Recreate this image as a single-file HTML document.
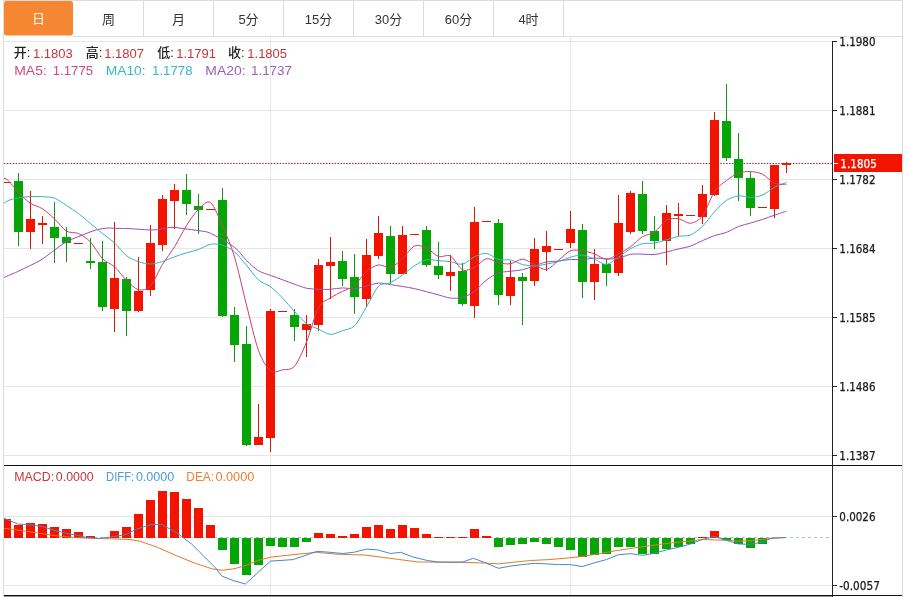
<!DOCTYPE html>
<html><head><meta charset="utf-8"><title>EURUSD K线</title>
<style>
html,body{margin:0;padding:0;background:#fff;}
body{width:907px;height:597px;overflow:hidden;position:relative;}
svg{position:absolute;left:0;top:0;display:block;will-change:transform;}
.t{font-family:"Liberation Sans","Noto Sans CJK SC",sans-serif;}
.ax{font-family:"DejaVu Sans Condensed","DejaVu Sans",sans-serif;font-stretch:condensed;font-size:12px;fill:#1a1a1a;stroke:#1a1a1a;stroke-width:0.25px;}
</style></head><body>
<svg width="907" height="597" viewBox="0 0 907 597" shape-rendering="crispEdges">

<rect x="0" y="0" width="907" height="597" fill="#fff"/>
<rect x="3" y="0" width="900" height="1" fill="#dcdcdc"/>
<rect x="73" y="36" width="830" height="1" fill="#dcdcdc"/>
<rect x="3" y="0" width="1" height="597" fill="#dcdcdc"/>
<rect x="902" y="0" width="1" height="597" fill="#dcdcdc"/>
<rect x="143" y="0" width="1" height="36" fill="#dcdcdc"/>
<rect x="213" y="0" width="1" height="36" fill="#dcdcdc"/>
<rect x="283" y="0" width="1" height="36" fill="#dcdcdc"/>
<rect x="353" y="0" width="1" height="36" fill="#dcdcdc"/>
<rect x="423" y="0" width="1" height="36" fill="#dcdcdc"/>
<rect x="493" y="0" width="1" height="36" fill="#dcdcdc"/>
<rect x="563" y="0" width="1" height="36" fill="#dcdcdc"/>
<rect x="4" y="1" width="69" height="34.5" rx="2.5" fill="#f58733" shape-rendering="geometricPrecision"/>
<text class="t" x="38.5" y="23.3" font-size="13" fill="#fff8e6" text-anchor="middle">日</text>
<text class="t" x="108.5" y="24" font-size="13" fill="#333" text-anchor="middle">周</text>
<text class="t" x="178.5" y="24" font-size="13" fill="#333" text-anchor="middle">月</text>
<text class="t" x="248.5" y="24" font-size="13" fill="#333" text-anchor="middle">5分</text>
<text class="t" x="318.5" y="24" font-size="13" fill="#333" text-anchor="middle">15分</text>
<text class="t" x="388.5" y="24" font-size="13" fill="#333" text-anchor="middle">30分</text>
<text class="t" x="458.5" y="24" font-size="13" fill="#333" text-anchor="middle">60分</text>
<text class="t" x="528.5" y="24" font-size="13" fill="#333" text-anchor="middle">4时</text>
<rect x="4" y="41" width="828" height="1" fill="#e6e6e6"/>
<rect x="4" y="110" width="828" height="1" fill="#e6e6e6"/>
<rect x="4" y="179" width="828" height="1" fill="#e6e6e6"/>
<rect x="4" y="248" width="828" height="1" fill="#e6e6e6"/>
<rect x="4" y="317" width="828" height="1" fill="#e6e6e6"/>
<rect x="4" y="386" width="828" height="1" fill="#e6e6e6"/>
<rect x="4" y="455" width="828" height="1" fill="#e6e6e6"/>
<rect x="270" y="37" width="1" height="558" fill="#e6e6e6"/>
<rect x="570" y="37" width="1" height="558" fill="#e6e6e6"/>
<rect x="4" y="516" width="828" height="1" fill="#e6e6e6"/>
<rect x="4" y="585" width="828" height="1" fill="#e6e6e6"/>
<rect x="4" y="465" width="898" height="1" fill="#111"/>
<rect x="4" y="595" width="898" height="1" fill="#111"/>
<rect x="4" y="596" width="828" height="1" fill="#111" fill-opacity="0.45"/>
<rect x="832" y="41" width="1" height="556" fill="#222"/>
<rect x="833" y="41" width="4" height="1" fill="#222"/>
<text class="ax" x="839.3" y="45.9" textLength="36.2" lengthAdjust="spacingAndGlyphs">1.1980</text>
<rect x="833" y="110" width="4" height="1" fill="#222"/>
<text class="ax" x="839.3" y="114.9" textLength="36.2" lengthAdjust="spacingAndGlyphs">1.1881</text>
<rect x="833" y="179" width="4" height="1" fill="#222"/>
<text class="ax" x="839.3" y="183.9" textLength="36.2" lengthAdjust="spacingAndGlyphs">1.1782</text>
<rect x="833" y="248" width="4" height="1" fill="#222"/>
<text class="ax" x="839.3" y="252.9" textLength="36.2" lengthAdjust="spacingAndGlyphs">1.1684</text>
<rect x="833" y="317" width="4" height="1" fill="#222"/>
<text class="ax" x="839.3" y="321.9" textLength="36.2" lengthAdjust="spacingAndGlyphs">1.1585</text>
<rect x="833" y="386" width="4" height="1" fill="#222"/>
<text class="ax" x="839.3" y="390.9" textLength="36.2" lengthAdjust="spacingAndGlyphs">1.1486</text>
<rect x="833" y="455" width="4" height="1" fill="#222"/>
<text class="ax" x="839.3" y="459.9" textLength="36.2" lengthAdjust="spacingAndGlyphs">1.1387</text>
<rect x="833" y="516" width="4" height="1" fill="#222"/>
<text class="ax" x="839.3" y="520.9" textLength="36.2" lengthAdjust="spacingAndGlyphs">0.0026</text>
<rect x="833" y="585" width="4" height="1" fill="#222"/>
<text class="ax" x="839.3" y="589.9" textLength="40.6" lengthAdjust="spacingAndGlyphs">-0.0057</text>
<line x1="4" y1="163.5" x2="832" y2="163.5" stroke="#b41c24" stroke-width="1" stroke-dasharray="1.5 1.4" shape-rendering="geometricPrecision"/>
<rect x="834" y="154" width="68" height="18" fill="#f31400"/>
<rect x="834" y="163" width="4" height="1" fill="#fff"/>
<text class="ax" x="840.3" y="168" textLength="36.5" lengthAdjust="spacingAndGlyphs" style="fill:#fff;stroke:#fff">1.1805</text>
<defs><clipPath id="cp"><rect x="4" y="37" width="828" height="428"/></clipPath><clipPath id="cm"><rect x="4" y="466" width="828" height="129"/></clipPath></defs>
<g clip-path="url(#cp)">
<rect x="2.0" y="182" width="9" height="1" fill="#d81808"/>
<rect x="18.0" y="173.2" width="1" height="72.80000000000001" fill="#15901a"/>
<rect x="14.0" y="181" width="9" height="50.69999999999999" fill="#05a505"/>
<rect x="30.0" y="191" width="1" height="57.599999999999994" fill="#d81808"/>
<rect x="26.0" y="219.3" width="9" height="12.399999999999977" fill="#f31400"/>
<rect x="42.0" y="216.3" width="1" height="27.5" fill="#d81808"/>
<rect x="38.0" y="222.7" width="9" height="2" fill="#f31400"/>
<rect x="54.0" y="202.1" width="1" height="60.400000000000006" fill="#15901a"/>
<rect x="50.0" y="226.6" width="9" height="11.0" fill="#05a505"/>
<rect x="66.0" y="227.3" width="1" height="34.19999999999999" fill="#15901a"/>
<rect x="62.0" y="237.3" width="9" height="6.099999999999994" fill="#05a505"/>
<rect x="74.0" y="243" width="9" height="1" fill="#d81808"/>
<rect x="90.0" y="238.3" width="1" height="30.19999999999999" fill="#15901a"/>
<rect x="86.0" y="260.9" width="9" height="2" fill="#05a505"/>
<rect x="102.0" y="241.4" width="1" height="69.9" fill="#15901a"/>
<rect x="98.0" y="262" width="9" height="44.69999999999999" fill="#05a505"/>
<rect x="114.0" y="222.3" width="1" height="110.09999999999997" fill="#d81808"/>
<rect x="110.0" y="278.1" width="9" height="30.599999999999966" fill="#f31400"/>
<rect x="126.0" y="277.3" width="1" height="59.099999999999966" fill="#15901a"/>
<rect x="122.0" y="278.7" width="9" height="32.0" fill="#05a505"/>
<rect x="138.0" y="256.7" width="1" height="55.60000000000002" fill="#d81808"/>
<rect x="134.0" y="291.2" width="9" height="19.69999999999999" fill="#f31400"/>
<rect x="150.0" y="224.9" width="1" height="70.9" fill="#d81808"/>
<rect x="146.0" y="243" width="9" height="47.19999999999999" fill="#f31400"/>
<rect x="162.0" y="194.7" width="1" height="56.70000000000002" fill="#d81808"/>
<rect x="158.0" y="199.1" width="9" height="45.900000000000006" fill="#f31400"/>
<rect x="174.0" y="184" width="1" height="44.69999999999999" fill="#d81808"/>
<rect x="170.0" y="190.1" width="9" height="10.5" fill="#f31400"/>
<rect x="186.0" y="174.4" width="1" height="40.79999999999998" fill="#15901a"/>
<rect x="182.0" y="190.1" width="9" height="14.099999999999994" fill="#05a505"/>
<rect x="198.0" y="194.1" width="1" height="40.20000000000002" fill="#15901a"/>
<rect x="194.0" y="205.6" width="9" height="4.599999999999994" fill="#05a505"/>
<rect x="206.0" y="209" width="9" height="1" fill="#d81808"/>
<rect x="222.0" y="187.7" width="1" height="128.8" fill="#15901a"/>
<rect x="218.0" y="200.2" width="9" height="116.0" fill="#05a505"/>
<rect x="234.0" y="307.1" width="1" height="55.299999999999955" fill="#15901a"/>
<rect x="230.0" y="315.2" width="9" height="29.5" fill="#05a505"/>
<rect x="246.0" y="325.8" width="1" height="119.69999999999999" fill="#15901a"/>
<rect x="242.0" y="344.3" width="9" height="100.69999999999999" fill="#05a505"/>
<rect x="258.0" y="403.8" width="1" height="41.19999999999999" fill="#d81808"/>
<rect x="254.0" y="437.3" width="9" height="7.699999999999989" fill="#f31400"/>
<rect x="270.0" y="309.1" width="1" height="143.2" fill="#d81808"/>
<rect x="266.0" y="311.2" width="9" height="126.60000000000002" fill="#f31400"/>
<rect x="278.0" y="311" width="9" height="1" fill="#d81808"/>
<rect x="294.0" y="309.1" width="1" height="32.19999999999999" fill="#15901a"/>
<rect x="290.0" y="315.2" width="9" height="11.400000000000034" fill="#05a505"/>
<rect x="306.0" y="315.3" width="1" height="41.19999999999999" fill="#d81808"/>
<rect x="302.0" y="324.3" width="9" height="5.399999999999977" fill="#f31400"/>
<rect x="318.0" y="258.6" width="1" height="72.79999999999995" fill="#d81808"/>
<rect x="314.0" y="265.4" width="9" height="59.30000000000001" fill="#f31400"/>
<rect x="330.0" y="237.2" width="1" height="61.30000000000001" fill="#d81808"/>
<rect x="326.0" y="261.7" width="9" height="4.199999999999989" fill="#f31400"/>
<rect x="342.0" y="250.9" width="1" height="35.099999999999994" fill="#15901a"/>
<rect x="338.0" y="261.3" width="9" height="17.5" fill="#05a505"/>
<rect x="354.0" y="253.9" width="1" height="59.599999999999994" fill="#15901a"/>
<rect x="350.0" y="276.8" width="9" height="19.899999999999977" fill="#05a505"/>
<rect x="366.0" y="238.6" width="1" height="68.20000000000002" fill="#d81808"/>
<rect x="362.0" y="254.7" width="9" height="44.10000000000002" fill="#f31400"/>
<rect x="378.0" y="215.7" width="1" height="43.0" fill="#d81808"/>
<rect x="374.0" y="232.8" width="9" height="23.099999999999994" fill="#f31400"/>
<rect x="390.0" y="225.7" width="1" height="58.400000000000034" fill="#15901a"/>
<rect x="386.0" y="235.8" width="9" height="38.0" fill="#05a505"/>
<rect x="402.0" y="225.8" width="1" height="48.39999999999998" fill="#d81808"/>
<rect x="398.0" y="234.7" width="9" height="39.5" fill="#f31400"/>
<rect x="410.0" y="234" width="9" height="1" fill="#d81808"/>
<rect x="426.0" y="226.2" width="1" height="41.19999999999999" fill="#15901a"/>
<rect x="422.0" y="230.2" width="9" height="34.60000000000002" fill="#05a505"/>
<rect x="438.0" y="241.9" width="1" height="36.900000000000006" fill="#15901a"/>
<rect x="434.0" y="265.8" width="9" height="9.0" fill="#05a505"/>
<rect x="450.0" y="255.3" width="1" height="35.19999999999999" fill="#d81808"/>
<rect x="446.0" y="271.9" width="9" height="3.7000000000000455" fill="#f31400"/>
<rect x="462.0" y="263.4" width="1" height="42.200000000000045" fill="#15901a"/>
<rect x="458.0" y="271" width="9" height="32.5" fill="#05a505"/>
<rect x="474.0" y="207.1" width="1" height="111.20000000000002" fill="#d81808"/>
<rect x="470.0" y="221.8" width="9" height="83.69999999999999" fill="#f31400"/>
<rect x="482.0" y="221" width="9" height="1" fill="#d81808"/>
<rect x="498.0" y="219.1" width="1" height="85.6" fill="#15901a"/>
<rect x="494.0" y="223.2" width="9" height="71.40000000000003" fill="#05a505"/>
<rect x="510.0" y="260.8" width="1" height="43.89999999999998" fill="#d81808"/>
<rect x="506.0" y="277.2" width="9" height="18.5" fill="#f31400"/>
<rect x="522.0" y="273.4" width="1" height="51.10000000000002" fill="#15901a"/>
<rect x="518.0" y="277.4" width="9" height="3.2000000000000455" fill="#05a505"/>
<rect x="534.0" y="238.3" width="1" height="47.80000000000001" fill="#d81808"/>
<rect x="530.0" y="249" width="9" height="32" fill="#f31400"/>
<rect x="546.0" y="230.7" width="1" height="40.19999999999999" fill="#d81808"/>
<rect x="542.0" y="245.9" width="9" height="5.900000000000006" fill="#f31400"/>
<rect x="554.0" y="249" width="9" height="1" fill="#d81808"/>
<rect x="570.0" y="211.2" width="1" height="36.70000000000002" fill="#d81808"/>
<rect x="566.0" y="228.8" width="9" height="14.099999999999994" fill="#f31400"/>
<rect x="582.0" y="224.2" width="1" height="73.40000000000003" fill="#15901a"/>
<rect x="578.0" y="230.3" width="9" height="51.19999999999999" fill="#05a505"/>
<rect x="594.0" y="249.3" width="1" height="50.69999999999999" fill="#d81808"/>
<rect x="590.0" y="264" width="9" height="17.5" fill="#f31400"/>
<rect x="606.0" y="259.4" width="1" height="26.100000000000023" fill="#15901a"/>
<rect x="602.0" y="264" width="9" height="8.699999999999989" fill="#05a505"/>
<rect x="618.0" y="195.1" width="1" height="80.70000000000002" fill="#d81808"/>
<rect x="614.0" y="222.8" width="9" height="50.30000000000001" fill="#f31400"/>
<rect x="630.0" y="190.7" width="1" height="43.20000000000002" fill="#d81808"/>
<rect x="626.0" y="192.5" width="9" height="39.599999999999994" fill="#f31400"/>
<rect x="642.0" y="181.1" width="1" height="52.80000000000001" fill="#15901a"/>
<rect x="638.0" y="193.7" width="9" height="37.60000000000002" fill="#05a505"/>
<rect x="654.0" y="216.2" width="1" height="32.60000000000002" fill="#15901a"/>
<rect x="650.0" y="231.3" width="9" height="10.099999999999994" fill="#05a505"/>
<rect x="666.0" y="204.6" width="1" height="59.900000000000006" fill="#d81808"/>
<rect x="662.0" y="213.2" width="9" height="27.600000000000023" fill="#f31400"/>
<rect x="678.0" y="203.2" width="1" height="32.70000000000002" fill="#d81808"/>
<rect x="674.0" y="214.2" width="9" height="2" fill="#f31400"/>
<rect x="686.0" y="215" width="9" height="1" fill="#d81808"/>
<rect x="702.0" y="184.8" width="1" height="39.599999999999994" fill="#d81808"/>
<rect x="698.0" y="194.3" width="9" height="22.19999999999999" fill="#f31400"/>
<rect x="714.0" y="112.2" width="1" height="83.99999999999999" fill="#d81808"/>
<rect x="710.0" y="119.8" width="9" height="74.8" fill="#f31400"/>
<rect x="726.0" y="84.1" width="1" height="77.20000000000002" fill="#15901a"/>
<rect x="722.0" y="121.3" width="9" height="36.89999999999999" fill="#05a505"/>
<rect x="738.0" y="133.3" width="1" height="68.0" fill="#15901a"/>
<rect x="734.0" y="158.9" width="9" height="18.900000000000006" fill="#05a505"/>
<rect x="750.0" y="171.8" width="1" height="44.5" fill="#15901a"/>
<rect x="746.0" y="178.1" width="9" height="29.599999999999994" fill="#05a505"/>
<rect x="758.0" y="207" width="9" height="1" fill="#d81808"/>
<rect x="774.0" y="164.5" width="1" height="53.80000000000001" fill="#d81808"/>
<rect x="770.0" y="164.5" width="9" height="44.400000000000006" fill="#f31400"/>
<rect x="786.0" y="161.6" width="1" height="10.900000000000006" fill="#d81808"/>
<rect x="782.0" y="163" width="9" height="2" fill="#f31400"/>
<g fill="none" stroke-width="1" shape-rendering="geometricPrecision">
<path d="M4.00,277.50 C6.40,276.45 14.60,273.05 20.00,270.50 C25.40,267.95 35.20,263.27 40.00,260.50 C44.80,257.73 48.10,254.78 52.00,252.00 C55.90,249.22 61.80,244.40 66.00,242.00 C70.20,239.60 75.50,237.80 80.00,236.00 C84.50,234.20 91.80,231.20 96.00,230.00 C100.20,228.80 105.30,228.25 108.00,228.00 C110.70,227.75 110.70,228.20 114.00,228.30 C117.30,228.41 124.60,228.46 130.00,228.70 C135.40,228.94 145.50,229.81 150.00,229.90 C154.50,229.99 156.70,229.69 160.00,229.30 C163.30,228.91 168.40,227.39 172.00,227.30 C175.60,227.21 180.03,228.19 184.00,228.70 C187.97,229.21 194.53,230.01 198.50,230.70 C202.47,231.39 205.10,230.80 210.50,233.30 C215.90,235.80 229.10,243.28 234.50,247.36 C239.90,251.43 242.90,256.98 246.50,260.49 C250.10,264.00 254.90,268.54 258.50,270.77 C262.10,273.00 266.90,274.02 270.50,275.37 C274.10,276.71 278.90,278.42 282.50,279.74 C286.10,281.06 290.90,282.92 294.50,284.19 C298.10,285.46 302.90,287.47 306.50,288.24 C310.10,289.00 314.90,289.15 318.50,289.31 C322.10,289.48 326.90,289.52 330.50,289.31 C334.10,289.09 338.90,287.98 342.50,287.91 C346.10,287.84 350.90,289.12 354.50,288.84 C358.10,288.56 362.90,286.90 366.50,286.04 C370.10,285.18 374.90,283.33 378.50,283.12 C382.10,282.91 386.90,284.16 390.50,284.66 C394.10,285.16 398.90,285.84 402.50,286.44 C406.10,287.04 410.90,287.86 414.50,288.64 C418.10,289.43 422.90,290.74 426.50,291.68 C430.10,292.61 434.90,293.95 438.50,294.91 C442.10,295.86 446.90,297.67 450.50,298.04 C454.10,298.42 458.90,298.42 462.50,297.41 C466.10,296.39 470.90,293.86 474.50,291.26 C478.10,288.66 482.90,282.84 486.50,280.09 C490.10,277.34 494.90,274.28 498.50,272.96 C502.10,271.63 506.90,271.74 510.50,271.25 C514.10,270.77 518.90,270.54 522.50,269.73 C526.10,268.91 530.90,267.01 534.50,265.84 C538.10,264.67 542.90,262.63 546.50,261.93 C550.10,261.22 554.90,261.49 558.50,261.12 C562.10,260.75 566.90,259.70 570.50,259.48 C574.10,259.25 578.90,259.84 582.50,259.61 C586.10,259.38 590.90,258.09 594.50,257.98 C598.10,257.86 602.90,258.81 606.50,258.88 C610.10,258.94 614.90,259.06 618.50,258.38 C622.10,257.69 626.90,254.95 630.50,254.31 C634.10,253.67 638.90,254.11 642.50,254.14 C646.10,254.17 650.90,254.83 654.50,254.50 C658.10,254.17 662.90,252.75 666.50,251.92 C670.10,251.09 674.90,249.81 678.50,248.94 C682.10,248.07 686.90,247.35 690.50,246.11 C694.10,244.86 698.90,242.23 702.50,240.65 C706.10,239.06 710.90,236.79 714.50,235.54 C718.10,234.30 722.90,233.73 726.50,232.38 C730.10,231.02 734.90,227.93 738.50,226.53 C742.10,225.14 746.90,224.13 750.50,223.06 C754.10,221.99 758.90,220.60 762.50,219.42 C766.10,218.23 770.90,216.44 774.50,215.19 C778.10,213.94 784.70,211.71 786.50,211.09" stroke="#9a4cb4"/>
<path d="M-5.50,212.00 C-3.70,210.43 2.90,203.63 6.50,201.50 C10.10,199.37 14.90,198.54 18.50,197.80 C22.10,197.06 26.90,196.76 30.50,196.60 C34.10,196.44 38.90,196.47 42.50,196.70 C46.10,196.92 50.90,196.78 54.50,198.10 C58.10,199.42 62.90,203.19 66.50,205.50 C70.10,207.81 74.90,210.80 78.50,213.50 C82.10,216.20 86.90,220.50 90.50,223.50 C94.10,226.50 98.90,230.60 102.50,233.50 C106.10,236.40 110.90,239.52 114.50,242.85 C118.10,246.18 122.90,252.87 126.50,255.69 C130.10,258.51 134.90,260.39 138.50,261.64 C142.10,262.89 146.90,264.02 150.50,264.01 C154.10,264.00 158.90,262.63 162.50,261.55 C166.10,260.47 170.90,258.10 174.50,256.80 C178.10,255.50 182.90,253.97 186.50,252.88 C190.10,251.79 194.90,250.81 198.50,249.52 C202.10,248.23 206.90,244.90 210.50,244.25 C214.10,243.60 218.90,244.06 222.50,245.20 C226.10,246.34 230.90,248.85 234.50,251.86 C238.10,254.87 242.90,261.08 246.50,265.29 C250.10,269.50 254.90,276.69 258.50,279.90 C262.10,283.11 266.90,284.02 270.50,286.72 C274.10,289.42 278.90,294.20 282.50,297.93 C286.10,301.66 290.90,307.73 294.50,311.58 C298.10,315.43 302.90,320.96 306.50,323.59 C310.10,326.22 314.90,327.49 318.50,329.11 C322.10,330.73 326.90,334.13 330.50,334.36 C334.10,334.59 338.90,331.90 342.50,330.62 C346.10,329.34 350.90,329.39 354.50,325.82 C358.10,322.25 362.90,312.71 366.50,306.79 C370.10,300.87 374.90,289.97 378.50,286.34 C382.10,282.71 386.90,284.31 390.50,282.60 C394.10,280.89 398.90,277.48 402.50,274.95 C406.10,272.42 410.90,267.99 414.50,265.71 C418.10,263.43 422.90,260.51 426.50,259.76 C430.10,259.01 434.90,260.41 438.50,260.70 C442.10,260.99 446.90,261.20 450.50,261.72 C454.10,262.24 458.90,264.94 462.50,264.19 C466.10,263.44 470.90,258.32 474.50,256.70 C478.10,255.08 482.90,252.96 486.50,253.39 C490.10,253.82 494.90,258.59 498.50,259.57 C502.10,260.55 506.90,259.17 510.50,259.91 C514.10,260.65 518.90,263.59 522.50,264.50 C526.10,265.41 530.90,266.04 534.50,265.98 C538.10,265.92 542.90,264.76 546.50,264.09 C550.10,263.42 554.90,262.57 558.50,261.54 C562.10,260.51 566.90,258.21 570.50,257.23 C574.10,256.25 578.90,254.73 582.50,255.03 C586.10,255.33 590.90,257.85 594.50,259.25 C598.10,260.65 602.90,264.67 606.50,264.36 C610.10,264.05 614.90,259.53 618.50,257.18 C622.10,254.83 626.90,250.72 630.50,248.71 C634.10,246.70 638.90,244.63 642.50,243.78 C646.10,242.93 650.90,243.62 654.50,243.02 C658.10,242.42 662.90,240.75 666.50,239.75 C670.10,238.75 674.90,237.06 678.50,236.34 C682.10,235.62 686.90,236.49 690.50,234.98 C694.10,233.47 698.90,229.73 702.50,226.26 C706.10,222.79 710.90,215.72 714.50,211.84 C718.10,207.96 722.90,202.78 726.50,200.39 C730.10,198.00 734.90,196.34 738.50,195.89 C742.10,195.44 746.90,197.54 750.50,197.41 C754.10,197.28 758.90,196.56 762.50,195.05 C766.10,193.54 770.90,189.25 774.50,187.36 C778.10,185.47 784.70,183.18 786.50,182.44" stroke="#35b3c0"/>
<path d="M-5.50,177.00 C-3.70,177.33 2.90,176.88 6.50,179.20 C10.10,181.52 14.90,188.88 18.50,192.50 C22.10,196.12 26.90,200.86 30.50,203.30 C34.10,205.75 38.90,206.46 42.50,208.80 C46.10,211.14 50.90,215.57 54.50,218.92 C58.10,222.27 62.90,228.94 66.50,231.14 C70.10,233.34 74.90,231.92 78.50,233.56 C82.10,235.20 86.90,238.31 90.50,242.08 C94.10,245.85 98.90,254.97 102.50,258.68 C106.10,262.38 110.90,263.55 114.50,266.78 C118.10,270.01 122.90,276.80 126.50,280.24 C130.10,283.68 134.90,288.86 138.50,289.72 C142.10,290.57 146.90,289.74 150.50,285.94 C154.10,282.14 158.90,270.29 162.50,264.42 C166.10,258.55 170.90,252.66 174.50,246.82 C178.10,240.98 182.90,231.14 186.50,225.52 C190.10,219.89 194.90,212.76 198.50,209.32 C202.10,205.88 206.90,200.06 210.50,202.56 C214.10,205.06 218.90,217.83 222.50,225.98 C226.10,234.13 230.90,245.04 234.50,256.90 C238.10,268.76 242.90,291.02 246.50,305.06 C250.10,319.10 254.90,340.61 258.50,350.48 C262.10,360.35 266.90,367.97 270.50,370.88 C274.10,373.79 278.90,370.57 282.50,369.88 C286.10,369.19 290.90,370.42 294.50,366.26 C298.10,362.10 302.90,350.90 306.50,342.12 C310.10,333.34 314.90,314.38 318.50,307.74 C322.10,301.10 326.90,300.30 330.50,297.84 C334.10,295.38 338.90,293.23 342.50,291.36 C346.10,289.49 350.90,288.37 354.50,285.38 C358.10,282.39 362.90,274.53 366.50,271.46 C370.10,268.39 374.90,265.56 378.50,264.94 C382.10,264.32 386.90,268.32 390.50,267.36 C394.10,266.40 398.90,261.74 402.50,258.54 C406.10,255.34 410.90,247.61 414.50,246.04 C418.10,244.47 422.90,246.50 426.50,248.06 C430.10,249.62 434.90,255.26 438.50,256.46 C442.10,257.66 446.90,254.07 450.50,256.08 C454.10,258.09 458.90,268.15 462.50,269.84 C466.10,271.53 470.90,269.03 474.50,267.36 C478.10,265.69 482.90,259.42 486.50,258.72 C490.10,258.02 494.90,261.93 498.50,262.68 C502.10,263.43 506.90,264.27 510.50,263.74 C514.10,263.21 518.90,259.03 522.50,259.16 C526.10,259.29 530.90,263.06 534.50,264.60 C538.10,266.15 542.90,270.09 546.50,269.46 C550.10,268.83 554.90,263.21 558.50,260.40 C562.10,257.59 566.90,252.15 570.50,250.72 C574.10,249.30 578.90,250.42 582.50,250.90 C586.10,251.38 590.90,252.65 594.50,253.90 C598.10,255.15 602.90,259.25 606.50,259.26 C610.10,259.27 614.90,255.84 618.50,253.96 C622.10,252.08 626.90,249.29 630.50,246.70 C634.10,244.10 638.90,238.84 642.50,236.66 C646.10,234.48 650.90,234.60 654.50,232.14 C658.10,229.68 662.90,222.25 666.50,220.24 C670.10,218.23 674.90,218.27 678.50,218.72 C682.10,219.17 686.90,223.69 690.50,223.26 C694.10,222.83 698.90,220.62 702.50,215.86 C706.10,211.10 710.90,196.84 714.50,191.54 C718.10,186.24 722.90,183.31 726.50,180.54 C730.10,177.77 734.90,174.41 738.50,173.06 C742.10,171.71 746.90,171.38 750.50,171.56 C754.10,171.74 758.90,172.50 762.50,174.24 C766.10,175.98 770.90,181.66 774.50,183.18 C778.10,184.70 784.70,184.17 786.50,184.34" stroke="#cf3c72"/>
</g>
</g>
<g class="t" font-size="13">
<text x="13.7" y="56.9" fill="#222" font-weight="500">开:</text>
<text x="33" y="57.5" fill="#cc343a">1.1803</text>
<text x="85.7" y="56.9" fill="#222" font-weight="500">高:</text>
<text x="104.2" y="57.5" fill="#cc343a">1.1807</text>
<text x="157.29999999999998" y="56.9" fill="#222" font-weight="500">低:</text>
<text x="176.2" y="57.5" fill="#cc343a">1.1791</text>
<text x="227.89999999999998" y="56.9" fill="#222" font-weight="500">收:</text>
<text x="247.3" y="57.5" fill="#cc343a">1.1805</text>
<text x="14.2" y="75.4" font-size="13" fill="#d24a80" textLength="32.6" lengthAdjust="spacingAndGlyphs">MA5:</text>
<text x="52.7" y="75.4" font-size="13" fill="#d24a80" textLength="40.4" lengthAdjust="spacingAndGlyphs">1.1775</text>
<text x="105.8" y="75.4" font-size="13" fill="#3ab6c4" textLength="39.8" lengthAdjust="spacingAndGlyphs">MA10:</text>
<text x="152.1" y="75.4" font-size="13" fill="#3ab6c4" textLength="40.4" lengthAdjust="spacingAndGlyphs">1.1778</text>
<text x="205.3" y="75.4" font-size="13" fill="#9c60b8" textLength="40.3" lengthAdjust="spacingAndGlyphs">MA20:</text>
<text x="251.0" y="75.4" font-size="13" fill="#9c60b8" textLength="40.9" lengthAdjust="spacingAndGlyphs">1.1737</text>
<text x="14.2" y="480.7" font-size="12" fill="#cc343a" textLength="39.9" lengthAdjust="spacingAndGlyphs">MACD:</text>
<text x="55.8" y="480.7" font-size="12.5" fill="#cc343a" textLength="37.9" lengthAdjust="spacingAndGlyphs">0.0000</text>
<text x="106.1" y="480.7" font-size="12" fill="#4a9ade" textLength="28.0" lengthAdjust="spacingAndGlyphs">DIFF:</text>
<text x="135.9" y="480.7" font-size="12.5" fill="#4a9ade" textLength="38.4" lengthAdjust="spacingAndGlyphs">0.0000</text>
<text x="186.3" y="480.7" font-size="12" fill="#ee8030" textLength="27.8" lengthAdjust="spacingAndGlyphs">DEA:</text>
<text x="215.4" y="480.7" font-size="12.5" fill="#ee8030" textLength="38.9" lengthAdjust="spacingAndGlyphs">0.0000</text>
</g>
<g clip-path="url(#cm)">
<rect x="4" y="537" width="3" height="1" fill="#a8c4dc"/>
<rect x="10" y="537" width="3" height="1" fill="#a8c4dc"/>
<rect x="16" y="537" width="3" height="1" fill="#a8c4dc"/>
<rect x="22" y="537" width="3" height="1" fill="#a8c4dc"/>
<rect x="28" y="537" width="3" height="1" fill="#a8c4dc"/>
<rect x="34" y="537" width="3" height="1" fill="#a8c4dc"/>
<rect x="40" y="537" width="3" height="1" fill="#a8c4dc"/>
<rect x="46" y="537" width="3" height="1" fill="#a8c4dc"/>
<rect x="52" y="537" width="3" height="1" fill="#a8c4dc"/>
<rect x="58" y="537" width="3" height="1" fill="#a8c4dc"/>
<rect x="64" y="537" width="3" height="1" fill="#a8c4dc"/>
<rect x="70" y="537" width="3" height="1" fill="#a8c4dc"/>
<rect x="76" y="537" width="3" height="1" fill="#a8c4dc"/>
<rect x="82" y="537" width="3" height="1" fill="#a8c4dc"/>
<rect x="88" y="537" width="3" height="1" fill="#a8c4dc"/>
<rect x="94" y="537" width="3" height="1" fill="#a8c4dc"/>
<rect x="100" y="537" width="3" height="1" fill="#a8c4dc"/>
<rect x="106" y="537" width="3" height="1" fill="#a8c4dc"/>
<rect x="112" y="537" width="3" height="1" fill="#a8c4dc"/>
<rect x="118" y="537" width="3" height="1" fill="#a8c4dc"/>
<rect x="124" y="537" width="3" height="1" fill="#a8c4dc"/>
<rect x="130" y="537" width="3" height="1" fill="#a8c4dc"/>
<rect x="136" y="537" width="3" height="1" fill="#a8c4dc"/>
<rect x="142" y="537" width="3" height="1" fill="#a8c4dc"/>
<rect x="148" y="537" width="3" height="1" fill="#a8c4dc"/>
<rect x="154" y="537" width="3" height="1" fill="#a8c4dc"/>
<rect x="160" y="537" width="3" height="1" fill="#a8c4dc"/>
<rect x="166" y="537" width="3" height="1" fill="#a8c4dc"/>
<rect x="172" y="537" width="3" height="1" fill="#a8c4dc"/>
<rect x="178" y="537" width="3" height="1" fill="#a8c4dc"/>
<rect x="184" y="537" width="3" height="1" fill="#a8c4dc"/>
<rect x="190" y="537" width="3" height="1" fill="#a8c4dc"/>
<rect x="196" y="537" width="3" height="1" fill="#a8c4dc"/>
<rect x="202" y="537" width="3" height="1" fill="#a8c4dc"/>
<rect x="208" y="537" width="3" height="1" fill="#a8c4dc"/>
<rect x="214" y="537" width="3" height="1" fill="#a8c4dc"/>
<rect x="220" y="537" width="3" height="1" fill="#a8c4dc"/>
<rect x="226" y="537" width="3" height="1" fill="#a8c4dc"/>
<rect x="232" y="537" width="3" height="1" fill="#a8c4dc"/>
<rect x="238" y="537" width="3" height="1" fill="#a8c4dc"/>
<rect x="244" y="537" width="3" height="1" fill="#a8c4dc"/>
<rect x="250" y="537" width="3" height="1" fill="#a8c4dc"/>
<rect x="256" y="537" width="3" height="1" fill="#a8c4dc"/>
<rect x="262" y="537" width="3" height="1" fill="#a8c4dc"/>
<rect x="268" y="537" width="3" height="1" fill="#a8c4dc"/>
<rect x="274" y="537" width="3" height="1" fill="#a8c4dc"/>
<rect x="280" y="537" width="3" height="1" fill="#a8c4dc"/>
<rect x="286" y="537" width="3" height="1" fill="#a8c4dc"/>
<rect x="292" y="537" width="3" height="1" fill="#a8c4dc"/>
<rect x="298" y="537" width="3" height="1" fill="#a8c4dc"/>
<rect x="304" y="537" width="3" height="1" fill="#a8c4dc"/>
<rect x="310" y="537" width="3" height="1" fill="#a8c4dc"/>
<rect x="316" y="537" width="3" height="1" fill="#a8c4dc"/>
<rect x="322" y="537" width="3" height="1" fill="#a8c4dc"/>
<rect x="328" y="537" width="3" height="1" fill="#a8c4dc"/>
<rect x="334" y="537" width="3" height="1" fill="#a8c4dc"/>
<rect x="340" y="537" width="3" height="1" fill="#a8c4dc"/>
<rect x="346" y="537" width="3" height="1" fill="#a8c4dc"/>
<rect x="352" y="537" width="3" height="1" fill="#a8c4dc"/>
<rect x="358" y="537" width="3" height="1" fill="#a8c4dc"/>
<rect x="364" y="537" width="3" height="1" fill="#a8c4dc"/>
<rect x="370" y="537" width="3" height="1" fill="#a8c4dc"/>
<rect x="376" y="537" width="3" height="1" fill="#a8c4dc"/>
<rect x="382" y="537" width="3" height="1" fill="#a8c4dc"/>
<rect x="388" y="537" width="3" height="1" fill="#a8c4dc"/>
<rect x="394" y="537" width="3" height="1" fill="#a8c4dc"/>
<rect x="400" y="537" width="3" height="1" fill="#a8c4dc"/>
<rect x="406" y="537" width="3" height="1" fill="#a8c4dc"/>
<rect x="412" y="537" width="3" height="1" fill="#a8c4dc"/>
<rect x="418" y="537" width="3" height="1" fill="#a8c4dc"/>
<rect x="424" y="537" width="3" height="1" fill="#a8c4dc"/>
<rect x="430" y="537" width="3" height="1" fill="#a8c4dc"/>
<rect x="436" y="537" width="3" height="1" fill="#a8c4dc"/>
<rect x="442" y="537" width="3" height="1" fill="#a8c4dc"/>
<rect x="448" y="537" width="3" height="1" fill="#a8c4dc"/>
<rect x="454" y="537" width="3" height="1" fill="#a8c4dc"/>
<rect x="460" y="537" width="3" height="1" fill="#a8c4dc"/>
<rect x="466" y="537" width="3" height="1" fill="#a8c4dc"/>
<rect x="472" y="537" width="3" height="1" fill="#a8c4dc"/>
<rect x="478" y="537" width="3" height="1" fill="#a8c4dc"/>
<rect x="484" y="537" width="3" height="1" fill="#a8c4dc"/>
<rect x="490" y="537" width="3" height="1" fill="#a8c4dc"/>
<rect x="496" y="537" width="3" height="1" fill="#a8c4dc"/>
<rect x="502" y="537" width="3" height="1" fill="#a8c4dc"/>
<rect x="508" y="537" width="3" height="1" fill="#a8c4dc"/>
<rect x="514" y="537" width="3" height="1" fill="#a8c4dc"/>
<rect x="520" y="537" width="3" height="1" fill="#a8c4dc"/>
<rect x="526" y="537" width="3" height="1" fill="#a8c4dc"/>
<rect x="532" y="537" width="3" height="1" fill="#a8c4dc"/>
<rect x="538" y="537" width="3" height="1" fill="#a8c4dc"/>
<rect x="544" y="537" width="3" height="1" fill="#a8c4dc"/>
<rect x="550" y="537" width="3" height="1" fill="#a8c4dc"/>
<rect x="556" y="537" width="3" height="1" fill="#a8c4dc"/>
<rect x="562" y="537" width="3" height="1" fill="#a8c4dc"/>
<rect x="568" y="537" width="3" height="1" fill="#a8c4dc"/>
<rect x="574" y="537" width="3" height="1" fill="#a8c4dc"/>
<rect x="580" y="537" width="3" height="1" fill="#a8c4dc"/>
<rect x="586" y="537" width="3" height="1" fill="#a8c4dc"/>
<rect x="592" y="537" width="3" height="1" fill="#a8c4dc"/>
<rect x="598" y="537" width="3" height="1" fill="#a8c4dc"/>
<rect x="604" y="537" width="3" height="1" fill="#a8c4dc"/>
<rect x="610" y="537" width="3" height="1" fill="#a8c4dc"/>
<rect x="616" y="537" width="3" height="1" fill="#a8c4dc"/>
<rect x="622" y="537" width="3" height="1" fill="#a8c4dc"/>
<rect x="628" y="537" width="3" height="1" fill="#a8c4dc"/>
<rect x="634" y="537" width="3" height="1" fill="#a8c4dc"/>
<rect x="640" y="537" width="3" height="1" fill="#a8c4dc"/>
<rect x="646" y="537" width="3" height="1" fill="#a8c4dc"/>
<rect x="652" y="537" width="3" height="1" fill="#a8c4dc"/>
<rect x="658" y="537" width="3" height="1" fill="#a8c4dc"/>
<rect x="664" y="537" width="3" height="1" fill="#a8c4dc"/>
<rect x="670" y="537" width="3" height="1" fill="#a8c4dc"/>
<rect x="676" y="537" width="3" height="1" fill="#a8c4dc"/>
<rect x="682" y="537" width="3" height="1" fill="#a8c4dc"/>
<rect x="688" y="537" width="3" height="1" fill="#a8c4dc"/>
<rect x="694" y="537" width="3" height="1" fill="#a8c4dc"/>
<rect x="700" y="537" width="3" height="1" fill="#a8c4dc"/>
<rect x="706" y="537" width="3" height="1" fill="#a8c4dc"/>
<rect x="712" y="537" width="3" height="1" fill="#a8c4dc"/>
<rect x="718" y="537" width="3" height="1" fill="#a8c4dc"/>
<rect x="724" y="537" width="3" height="1" fill="#a8c4dc"/>
<rect x="730" y="537" width="3" height="1" fill="#a8c4dc"/>
<rect x="736" y="537" width="3" height="1" fill="#a8c4dc"/>
<rect x="742" y="537" width="3" height="1" fill="#a8c4dc"/>
<rect x="748" y="537" width="3" height="1" fill="#a8c4dc"/>
<rect x="754" y="537" width="3" height="1" fill="#a8c4dc"/>
<rect x="760" y="537" width="3" height="1" fill="#a8c4dc"/>
<rect x="766" y="537" width="3" height="1" fill="#a8c4dc"/>
<rect x="772" y="537" width="3" height="1" fill="#a8c4dc"/>
<rect x="778" y="537" width="3" height="1" fill="#a8c4dc"/>
<rect x="784" y="537" width="3" height="1" fill="#a8c4dc"/>
<rect x="790" y="537" width="3" height="1" fill="#a8c4dc"/>
<rect x="796" y="537" width="3" height="1" fill="#a8c4dc"/>
<rect x="802" y="537" width="3" height="1" fill="#a8c4dc"/>
<rect x="808" y="537" width="3" height="1" fill="#a8c4dc"/>
<rect x="814" y="537" width="3" height="1" fill="#a8c4dc"/>
<rect x="820" y="537" width="3" height="1" fill="#a8c4dc"/>
<rect x="826" y="537" width="3" height="1" fill="#a8c4dc"/>
<rect x="2.0" y="518.7" width="9" height="18.799999999999955" fill="#f31400"/>
<rect x="14.0" y="524.6" width="9" height="12.899999999999977" fill="#f31400"/>
<rect x="26.0" y="522.8" width="9" height="14.700000000000045" fill="#f31400"/>
<rect x="38.0" y="524.2" width="9" height="13.299999999999955" fill="#f31400"/>
<rect x="50.0" y="527" width="9" height="10.5" fill="#f31400"/>
<rect x="62.0" y="528.9" width="9" height="8.600000000000023" fill="#f31400"/>
<rect x="74.0" y="531.6" width="9" height="5.899999999999977" fill="#f31400"/>
<rect x="86.0" y="536" width="9" height="1.5" fill="#f31400"/>
<rect x="110.0" y="531.1" width="9" height="6.399999999999977" fill="#f31400"/>
<rect x="122.0" y="527.4" width="9" height="10.100000000000023" fill="#f31400"/>
<rect x="134.0" y="514" width="9" height="23.5" fill="#f31400"/>
<rect x="146.0" y="499.7" width="9" height="37.80000000000001" fill="#f31400"/>
<rect x="158.0" y="491.1" width="9" height="46.39999999999998" fill="#f31400"/>
<rect x="170.0" y="492" width="9" height="45.5" fill="#f31400"/>
<rect x="182.0" y="498.8" width="9" height="38.69999999999999" fill="#f31400"/>
<rect x="194.0" y="508.4" width="9" height="29.100000000000023" fill="#f31400"/>
<rect x="206.0" y="524.6" width="9" height="12.899999999999977" fill="#f31400"/>
<rect x="218.0" y="537.5" width="9" height="12.5" fill="#05a505"/>
<rect x="230.0" y="537.5" width="9" height="26.200000000000045" fill="#05a505"/>
<rect x="242.0" y="537.5" width="9" height="37.39999999999998" fill="#05a505"/>
<rect x="254.0" y="537.5" width="9" height="27.100000000000023" fill="#05a505"/>
<rect x="266.0" y="537.5" width="9" height="8.700000000000045" fill="#05a505"/>
<rect x="278.0" y="537.5" width="9" height="9.600000000000023" fill="#05a505"/>
<rect x="290.0" y="537.5" width="9" height="9.600000000000023" fill="#05a505"/>
<rect x="302.0" y="537.5" width="9" height="4.2999999999999545" fill="#05a505"/>
<rect x="314.0" y="533.3" width="9" height="4.2000000000000455" fill="#f31400"/>
<rect x="326.0" y="534.2" width="9" height="3.2999999999999545" fill="#f31400"/>
<rect x="338.0" y="535.7" width="9" height="1.7999999999999545" fill="#f31400"/>
<rect x="350.0" y="533.8" width="9" height="3.7000000000000455" fill="#f31400"/>
<rect x="362.0" y="526.5" width="9" height="11.0" fill="#f31400"/>
<rect x="374.0" y="525" width="9" height="12.5" fill="#f31400"/>
<rect x="386.0" y="528.7" width="9" height="8.799999999999955" fill="#f31400"/>
<rect x="398.0" y="525" width="9" height="12.5" fill="#f31400"/>
<rect x="410.0" y="528.3" width="9" height="9.200000000000045" fill="#f31400"/>
<rect x="422.0" y="534.4" width="9" height="3.1000000000000227" fill="#f31400"/>
<rect x="434.0" y="536.6" width="9" height="0.8999999999999773" fill="#f31400"/>
<rect x="446.0" y="536.8" width="9" height="0.7000000000000455" fill="#f31400"/>
<rect x="458.0" y="537" width="9" height="0.5" fill="#f31400"/>
<rect x="470.0" y="529.2" width="9" height="8.299999999999955" fill="#f31400"/>
<rect x="482.0" y="536.2" width="9" height="1.2999999999999545" fill="#f31400"/>
<rect x="494.0" y="537.5" width="9" height="9.200000000000045" fill="#05a505"/>
<rect x="506.0" y="537.5" width="9" height="7.0" fill="#05a505"/>
<rect x="518.0" y="537.5" width="9" height="6.7999999999999545" fill="#05a505"/>
<rect x="530.0" y="537.5" width="9" height="4.100000000000023" fill="#05a505"/>
<rect x="542.0" y="537.5" width="9" height="6.100000000000023" fill="#05a505"/>
<rect x="554.0" y="537.5" width="9" height="9.200000000000045" fill="#05a505"/>
<rect x="566.0" y="537.5" width="9" height="12.200000000000045" fill="#05a505"/>
<rect x="578.0" y="537.5" width="9" height="19.899999999999977" fill="#05a505"/>
<rect x="590.0" y="537.5" width="9" height="17.5" fill="#05a505"/>
<rect x="602.0" y="537.5" width="9" height="16.0" fill="#05a505"/>
<rect x="614.0" y="537.5" width="9" height="9.200000000000045" fill="#05a505"/>
<rect x="626.0" y="537.5" width="9" height="9.200000000000045" fill="#05a505"/>
<rect x="638.0" y="537.5" width="9" height="16.600000000000023" fill="#05a505"/>
<rect x="650.0" y="537.5" width="9" height="16.0" fill="#05a505"/>
<rect x="662.0" y="537.5" width="9" height="11.399999999999977" fill="#05a505"/>
<rect x="674.0" y="537.5" width="9" height="9.799999999999955" fill="#05a505"/>
<rect x="686.0" y="537.5" width="9" height="6.100000000000023" fill="#05a505"/>
<rect x="698.0" y="537.1" width="9" height="0.39999999999997726" fill="#f31400"/>
<rect x="710.0" y="531.1" width="9" height="6.399999999999977" fill="#f31400"/>
<rect x="722.0" y="537.5" width="9" height="2.3999999999999773" fill="#05a505"/>
<rect x="734.0" y="537.5" width="9" height="6.7999999999999545" fill="#05a505"/>
<rect x="746.0" y="537.5" width="9" height="10.200000000000045" fill="#05a505"/>
<rect x="758.0" y="537.5" width="9" height="6.5" fill="#05a505"/>
<g fill="none" stroke-width="1" shape-rendering="geometricPrecision">
<polyline points="4.0,528.3 18.4,530.1 36.9,532.9 55.3,535.7 73.7,537.5 92.1,538.4 110.6,538.8 129.0,539.4 140.0,541.2 158.4,547.7 176.9,555.9 195.3,563.3 211.9,568.8 222.0,570.3 234.0,568.8 246.5,565.2 257.9,560.5 270.5,557.2 290.0,555.0 298.4,554.1 316.9,552.3 335.3,554.1 353.7,554.7 364.8,555.0 381.3,557.2 399.8,559.6 418.2,562.0 429.2,562.0 447.6,562.4 466.1,562.4 484.5,563.0 498.5,563.9 512.1,562.4 530.6,560.5 549.0,559.6 570.0,557.8 578.4,556.9 596.9,554.1 615.3,550.8 633.7,548.0 652.1,545.4 670.6,543.0 689.0,541.2 703.7,539.4 714.5,539.9 726.5,540.3 738.5,541.2 750.4,540.8 762.4,539.4 771.1,538.1 785.8,537.5" stroke="#e4782a"/>
<polyline points="4.0,518.2 18.4,524.2 29.5,524.6 42.4,526.5 53.4,530.1 66.3,533.3 77.4,535.3 86.6,537.5 99.5,538.4 110.6,537.0 125.3,534.8 136.4,529.2 151.0,524.6 162.1,524.6 176.9,532.9 191.6,544.0 204.5,556.9 215.5,567.9 222.0,576.2 234.0,580.8 245.4,584.0 257.9,572.5 270.5,561.1 280.0,560.5 292.9,559.6 304.0,555.9 316.9,551.3 329.8,552.3 342.6,553.5 353.7,552.3 366.6,549.1 377.7,549.9 390.6,553.5 400.7,552.3 412.7,556.9 427.4,560.5 438.4,562.0 450.6,562.0 462.6,562.0 473.4,558.3 484.5,562.4 498.5,568.3 510.3,566.1 522.6,564.6 534.6,563.3 546.6,563.9 558.6,564.6 570.5,564.6 582.1,566.6 594.5,562.8 606.4,559.6 618.4,554.7 630.6,553.7 642.5,555.4 654.5,553.2 666.5,549.9 678.5,547.3 690.5,544.0 702.4,539.4 714.5,536.6 726.5,540.3 738.5,544.0 750.4,544.3 762.4,542.1 771.1,538.4 785.8,537.5" stroke="#4688cc"/>
</g></g>
</svg></body></html>
